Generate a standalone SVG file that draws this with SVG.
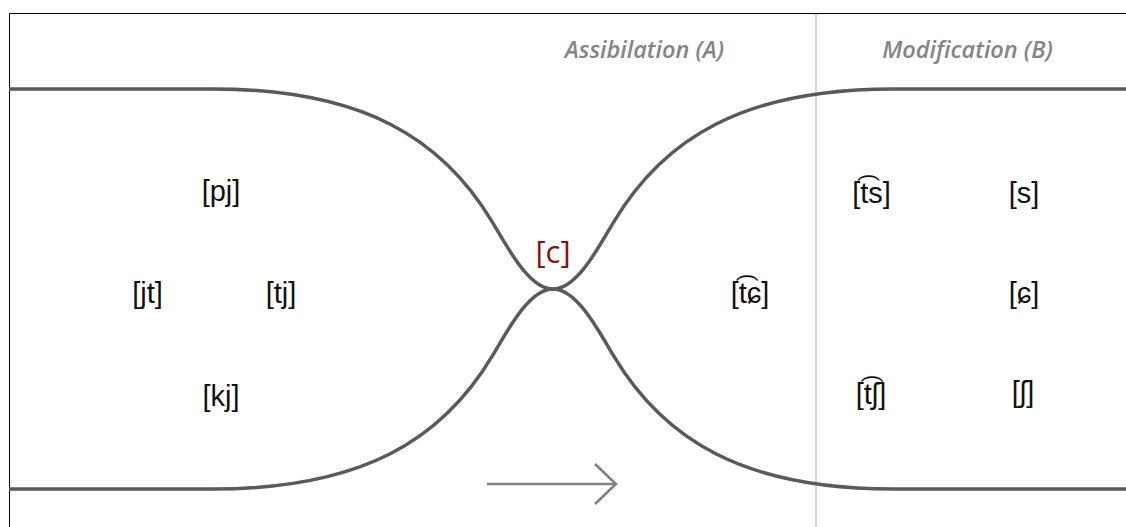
<svg xmlns="http://www.w3.org/2000/svg" width="1126" height="527" viewBox="0 0 1126 527">
  <style>
    .ipa { font-family: "Liberation Sans", Arial, sans-serif; font-size: 29px; fill: #111; text-anchor: middle; }
    .hdr { font-family: "Open Sans", "Noto Sans", sans-serif; font-style: italic; font-weight: 600; font-size: 23.5px; fill: #858585; text-anchor: middle; }
    .curve { fill: none; stroke: #5a5a5a; stroke-width: 3.5; }
  </style>
  <rect x="0" y="0" width="1126" height="527" fill="#ffffff"/>
  <g id="frame">
    <path d="M9.5,527 L9.5,13.5 L1126,13.5" fill="none" stroke="#000" stroke-width="1"/>
    <line x1="816" y1="14" x2="816" y2="527" stroke="#c8c8c8" stroke-width="1.5"/>
  </g>
  <g id="headers">
    <text class="hdr" x="644.5" y="58">Assibilation (A)</text>
    <text class="hdr" x="967.5" y="58">Modification (B)</text>
  </g>
  <g id="connectors">
    <path class="curve" d="M9,89 L213,89 C363,89 442.5,138.5 492.5,222.3 C507.5,247.3 529,289 553,289 C577,289 598.5,247.3 613.5,222.3 C663.5,138.5 743,89 893,89 L1126,89"/>
    <path class="curve" d="M9,489 L213,489 C363,489 442.5,439.5 492.5,355.7 C507.5,330.7 529,289 553,289 C577,289 598.5,330.7 613.5,355.7 C663.5,439.5 743,489 893,489 L1126,489"/>
    <g id="arrow" fill="none" stroke="#808080" stroke-width="2.5">
      <line x1="487" y1="484" x2="616" y2="484"/>
      <polyline points="595,464 616,484 595,504"/>
    </g>
  </g>
  <g id="node-pj"><text class="ipa" x="221" y="201">[pj]</text></g>
  <g id="node-jt"><text class="ipa" x="147.5" y="303">[jt]</text></g>
  <g id="node-tj"><text class="ipa" x="281" y="303">[tj]</text></g>
  <g id="node-kj"><text class="ipa" x="221" y="406">[kj]</text></g>
  <g id="node-c"><text x="553" y="263" font-family="'Open Sans', 'Noto Sans', sans-serif" font-size="31" fill="#8b1111" text-anchor="middle">[c]</text></g>
  <g id="node-tc"><text class="ipa" x="750" y="303">[t͡ɕ]</text></g>
  <g id="node-ts"><text class="ipa" x="871.5" y="203">[t͡s]</text></g>
  <g id="node-s"><text class="ipa" x="1024" y="203">[s]</text></g>
  <g id="node-c2"><text class="ipa" x="1024" y="303">[ɕ]</text></g>
  <g id="node-tsh"><text class="ipa" x="871" y="404">[t͡ʃ]</text></g>
  <g id="node-sh"><text class="ipa" x="1023" y="402">[ʃ]</text></g>
</svg>
